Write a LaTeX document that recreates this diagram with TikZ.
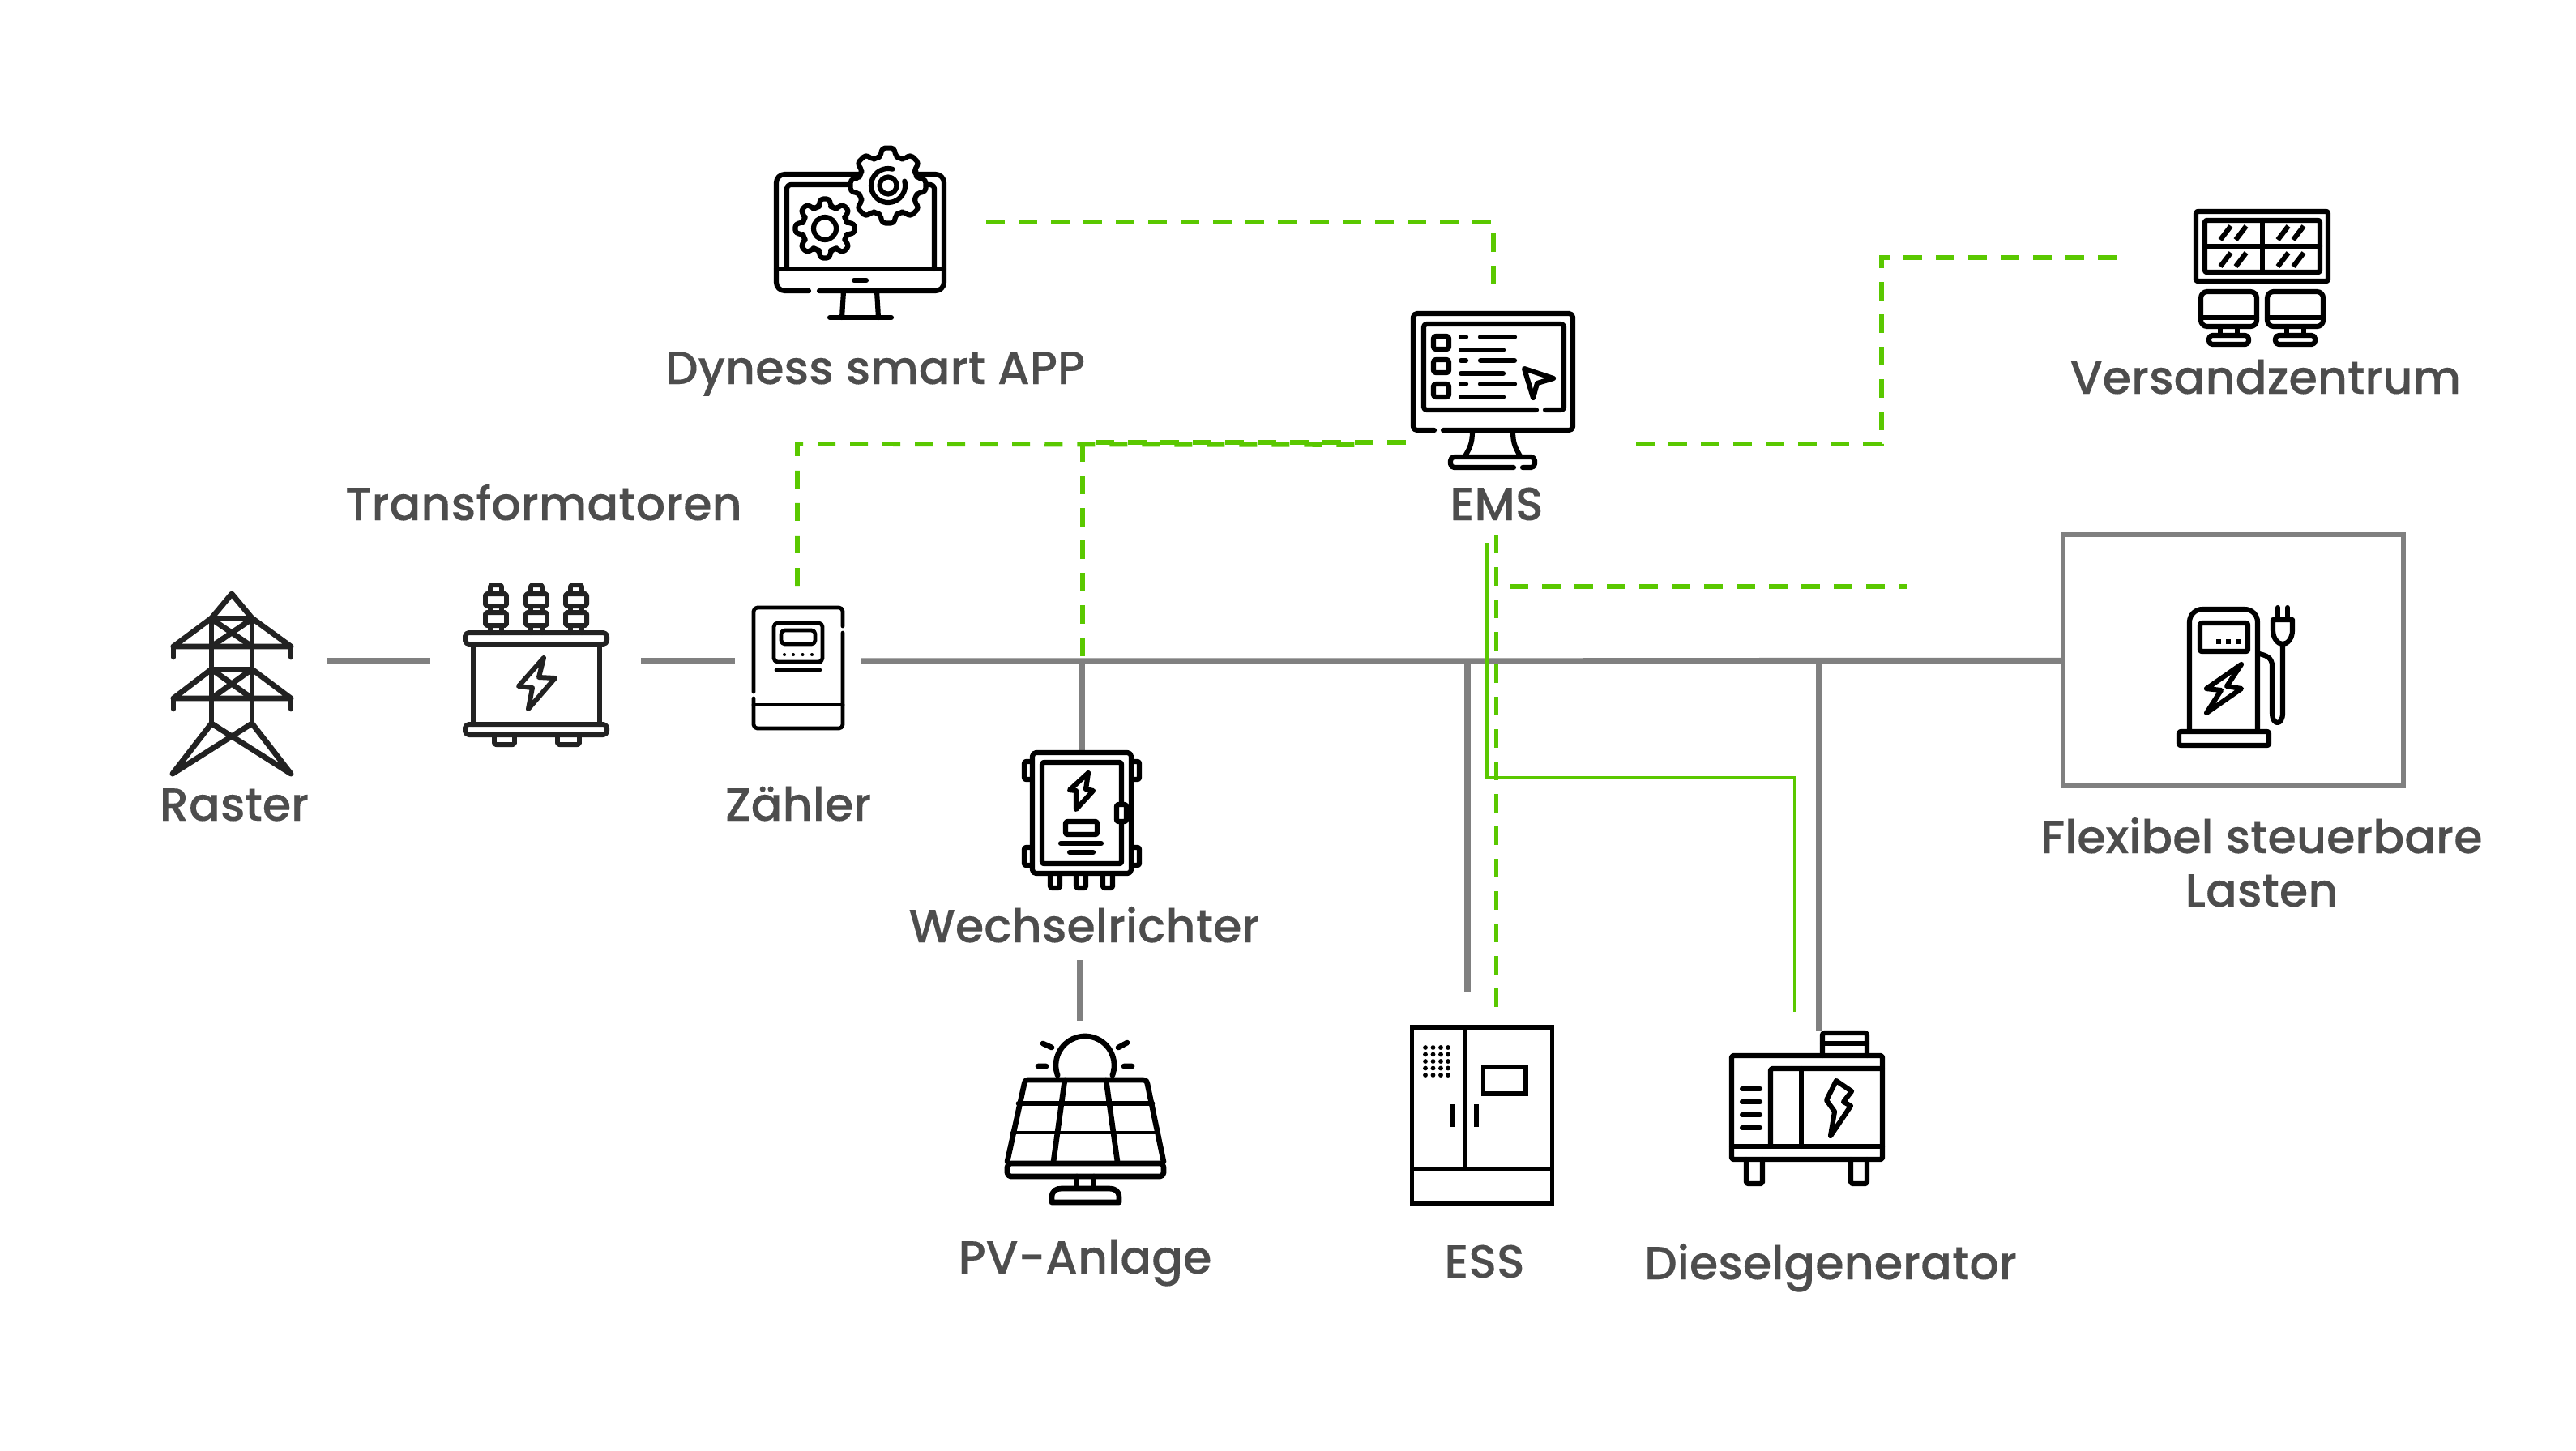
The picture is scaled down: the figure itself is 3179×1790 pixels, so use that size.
\documentclass[tikz,border=0pt]{standalone}
\usepackage{fontspec}
\newfontfamily\labfont[FakeBold=0.12]{Poppins Medium}
\definecolor{gridgrey}{HTML}{808080}
\definecolor{commgreen}{HTML}{5AC800}
\definecolor{labelgrey}{HTML}{4D4D4D}
\definecolor{icondark}{HTML}{222222}
\newcommand\gearshape[4]{%
 \begin{scope}[shift={(#1,#2)}]
 \draw[ic,fill=white,rounded corners=1.1pt] (-22.5:#4)
  \foreach \k in {0,...,7}{ -- ({45*\k-15}:#4) -- ({45*\k-9}:#3) -- ({45*\k+9}:#3) -- ({45*\k+15}:#4) -- ({45*\k+22.5}:#4) } -- cycle;
 \end{scope}}
\tikzset{
 ic/.style={line width=1.75pt,line join=round,line cap=round,draw=black},
 icthin/.style={ic,line width=1.35pt},
 ictower/.style={ic,draw=icondark,line width=1.95pt},
 rc/.style={rounded corners=1.3pt},
 grid/.style={draw=gridgrey,line width=2.05pt},
 gridbox/.style={draw=gridgrey,line width=1.75pt},
 comm/.style={draw=commgreen,line width=1.6pt},
 commsolid/.style={draw=commgreen,line width=1.4pt},
 commdash/.style={comm,dash pattern=on 6.54pt off 4.84pt},
 lab/.style={anchor=base,inner sep=0pt,text=labelgrey,font=\labfont\fontsize{16.3}{19}\selectfont},
 hole/.style={inner sep=0pt,minimum size=0pt},
}
\begin{document}
\begin{tikzpicture}[x=0.01cm,y=-0.01cm]
\useasboundingbox (0,0) rectangle (3179,1790);
\fill[white] (0,0) rectangle (3179,1790);

% ---------- named places for the connector ends
\coordinate (towerE) at (404,816);
\coordinate (trafoW) at (531,816);
\coordinate (trafoE) at (791,816);
\coordinate (meterW) at (907,816);
\coordinate (meterE) at (1062,816);
\coordinate (busA) at (1811,816);
\coordinate (busB) at (2245,815.5);
\coordinate (flexW) at (2546,815.5);
\coordinate (invBus) at (1335,816);
\coordinate (invN) at (1335,927);
\coordinate (invS) at (1333,1185);
\coordinate (pvN) at (1333,1260);
\coordinate (essN) at (1811,1225);
\coordinate (genN) at (2245,1273);
\coordinate (appE) at (1217,274);
\coordinate (appC) at (1843,274);
\coordinate (emsN) at (1843,354);
\coordinate (meterN) at (984,723);
\coordinate (meterC) at (984,548);
\coordinate (meterR) at (1674,549);
\coordinate (emsW) at (1735,546);
\coordinate (invC) at (1336,546);
\coordinate (invG) at (1336,816);
\coordinate (emsE) at (2019,548);
\coordinate (dspA) at (2322,548);
\coordinate (dspB) at (2322,318);
\coordinate (dspE) at (2615,318);
\coordinate (emsS) at (1846.5,660);
\coordinate (essG) at (1846.5,1244);
\coordinate (flexA) at (1863,724);
\coordinate (flexB) at (2353,724);
\coordinate (emsT) at (1834.5,670);
\coordinate (genA) at (1834.5,960);
\coordinate (genB) at (2215,960);
\coordinate (genG) at (2215,1249);

% ---------- grid lines
\draw[grid] (towerE) -- (trafoW);
\draw[grid] (trafoE) -- (meterW);
\draw[grid] (meterE) -- (busA) -- (busB) -- (flexW);
\draw[grid] (invBus) -- (invN);
\draw[grid] (invS) -- (pvN);
\draw[grid] (busA) -- (essN);
\draw[grid] (busB) -- (genN);
\draw[gridbox,fill=white] (2546,660) rectangle (2966,970);

% ---------- communication lines
\draw[commdash] (appE) -- (appC) -- (emsN);
\draw[comm,dash pattern=on 6.26pt off 5.12pt] (meterN) -- (meterC) -- (meterR);
\draw[commdash] (emsW) -- (invC) -- (invG);
\draw[commdash] (emsE) -- (dspA) -- (dspB) -- (dspE);
\draw[commdash] (emsS) -- (essG);
\draw[commdash] (flexA) -- (flexB);
\draw[commsolid] (emsT) -- (genA) -- (genB) -- (genG);

% ---------- tower (Raster)
\node[hole] (tower) at (286,844) {};
\begin{scope}[ictower]
\draw (286,733) -- (261,763) -- (214,798) -- (359,798) -- (311,763) -- cycle;
\draw (261,763) -- (311,763);
\draw (214,798) -- (214,811) (359,798) -- (359,811);
\draw (261,763) -- (261,893) (311,763) -- (311,893);
\draw (264,766) -- (311,798) (308,766) -- (261,798);
\draw (261,826) -- (311,826);
\draw (261,826) -- (214,862) -- (359,862) -- (311,826);
\draw (214,862) -- (214,875) (359,862) -- (359,875);
\draw (261,826) -- (311,862) (311,826) -- (261,862);
\draw (261,893) -- (359,955) -- (311,893) (311,893) -- (213,955) -- (261,893);
\end{scope}

% ---------- transformer
\node[hole] (trafo) at (662,820) {};
\begin{scope}[ictower,line width=1.7pt]
\draw[rc] (574,781) rectangle (749,795);
\draw[rc] (574,894) rectangle (749,907);
\draw (584,795) -- (584,894) (740,795) -- (740,894);
\draw[rounded corners=0.7pt] (610,907) -- (610,919) -- (635,919) -- (635,907);
\draw[rounded corners=0.7pt] (688,907) -- (688,919) -- (715,919) -- (715,907);
\draw (671,812) -- (640,847) -- (657,849) -- (652,875) -- (685,837) -- (665,836) -- cycle;
\foreach \tx in {612,662,711}{
 \draw[rounded corners=0.7pt] (\tx-7,733) -- (\tx-7,722) -- (\tx+7,722) -- (\tx+7,733);
 \draw[rounded corners=0.7pt] (\tx-13,733) rectangle (\tx+13,748);
 \draw[rounded corners=0.7pt] (\tx-13,756) rectangle (\tx+13,772);
 \draw (\tx-7,748) -- (\tx-7,756) (\tx+7,748) -- (\tx+7,756);
 \draw (\tx-7,772) -- (\tx-7,781) (\tx+7,772) -- (\tx+7,781);
}
\end{scope}

% ---------- meter (Zähler)
\node[hole] (meter) at (985,824) {};
\begin{scope}[icthin]
\draw[rc] (1040,773) -- (1040,750) -- (930,750) -- (930,854);
\draw[rc] (930,862) -- (930,899) -- (1040,899) -- (1040,781);
\draw (930,870) -- (1040,870);
\draw[rc] (1013,817) -- (955,817) -- (955,769) -- (1015,769) -- (1015,817) -- (1010,817);
\draw[rc] (964,778) rectangle (1006,795);
\draw (958,827) -- (1012,827);
\foreach \dx in {968,979,990.5,1002}{\fill (\dx,808) circle (2);}
\end{scope}

% ---------- Dyness app monitor
\node[hole] (app) at (1062,268) {};
\begin{scope}[ic]
\draw[rounded corners=3pt] (998,359) -- (958,359) -- (958,215) -- (1165,215) -- (1165,359) -- (1011,359);
\draw[rc] (971,332) -- (971,228) -- (1153,228) -- (1153,332);
\draw (958,332) -- (1165,332);
\draw (1054,346) -- (1069,346);
\draw (1041,359) -- (1039,392) (1082,359) -- (1084,392);
\draw (1024,392) -- (1100,392);
\end{scope}
\gearshape{1096}{229}{47}{37}
\draw[ic] (1096,229) circle (10.5);
\draw[ic] plot[domain=75:375,samples=40] ({1096+21*cos(\x)},{229-21*sin(\x)});
\gearshape{1018}{282}{37}{28}
\draw[ic] (1018,282) circle (14);

% ---------- EMS monitor
\node[hole] (ems) at (1843,480) {};
\begin{scope}[ic]
\draw[rc] (1770,531) -- (1744,531) -- (1744,387) -- (1941,387) -- (1941,531) -- (1781,531);
\draw[rounded corners=1pt] (1896,506) -- (1757,506) -- (1757,400) -- (1930,400) -- (1930,506) -- (1907,506);
\foreach \sy in {413,442,472}{\draw[rounded corners=0.8pt] (1769,\sy+2) rectangle (1788,\sy+18);}
\foreach \ly in {416,445,474}{
 \draw (1803,\ly) -- (1809,\ly) (1827,\ly) -- (1869,\ly);
 \draw (1803,\ly+16) -- (1855,\ly+16);
}
\draw (1881,455) -- (1917,467) -- (1897,473) -- (1892,491) -- cycle;
\draw (1817,533) .. controls (1817,548) and (1813,554) .. (1808,563);
\draw (1867,533) .. controls (1867,548) and (1871,554) .. (1876,563);
\draw[rc] (1868,577) -- (1790,577) -- (1790,564) -- (1894,564) -- (1894,577) -- (1879,577);
\end{scope}

% ---------- dispatch centre (Versandzentrum)
\node[hole] (dispatch) at (2790,342) {};
\begin{scope}[ic]
\draw[rounded corners=0.6pt] (2710,261) rectangle (2873,347);
\draw[rounded corners=0.6pt] (2721,272) rectangle (2863,336);
\draw (2792,272) -- (2792,336) (2721,304) -- (2863,304);
\foreach \ox in {0,71}{\foreach \oy in {0,33}{
 \draw[line cap=butt] (2740+\ox,296+\oy) -- (2753+\ox,279+\oy);
 \draw[line cap=butt] (2759+\ox,296+\oy) -- (2772+\ox,279+\oy);
}}
\foreach \ox in {0,82}{
 \draw[rounded corners=2.2pt] (2716+\ox,360) rectangle (2785+\ox,403);
 \draw (2716+\ox,392) -- (2785+\ox,392);
 \draw (2740+\ox,403) -- (2740+\ox,414) (2761+\ox,403) -- (2761+\ox,414);
 \draw[rounded corners=1.2pt] (2726+\ox,425) -- (2726+\ox,414) -- (2775+\ox,414) -- (2775+\ox,425) -- cycle;
}
\end{scope}

% ---------- charger (Flexibel steuerbare Lasten)
\node[hole] (charger) at (2756,836) {};
\begin{scope}[ic]
\draw[rounded corners=4.5pt] (2702,902) -- (2702,752) -- (2786,752) -- (2786,902);
\draw[rounded corners=0.6pt] (2689,903) rectangle (2800,920);
\draw[rounded corners=0.6pt] (2715,769) rectangle (2774,804);
\foreach \dx in {2738,2750,2762}{\fill (\dx-3,789) rectangle (\dx+3,795);}
\draw (2766,820) -- (2723,850) -- (2741,852) -- (2723,880) -- (2766,850) -- (2748,847) -- cycle;
\draw (2788,807) .. controls (2797,809) and (2804,812) .. (2804,822) -- (2804,880) .. controls (2804,896) and (2817,896) .. (2817,880) -- (2817,795);
\draw (2805,765) -- (2829,765) -- (2829,778) .. controls (2829,788) and (2823,795) .. (2817,795) .. controls (2811,795) and (2805,788) .. (2805,778) -- cycle;
\draw (2811,750) -- (2811,765) (2823,750) -- (2823,765);
\end{scope}

% ---------- inverter (Wechselrichter)
\node[hole] (inverter) at (1335,1000) {};
\begin{scope}[ic]
\draw[rc] (1274,929) rectangle (1396,1078);
\draw[rounded corners=0.6pt] (1286,941) rectangle (1384,1066);
\foreach \ty in {940,1046}{
 \draw[rounded corners=0.6pt] (1273,\ty) -- (1264,\ty) -- (1264,\ty+22) -- (1273,\ty+22);
 \draw[rounded corners=0.6pt] (1397,\ty) -- (1406,\ty) -- (1406,\ty+22) -- (1397,\ty+22);
}
\draw[rounded corners=0.6pt,fill=white] (1378,993) rectangle (1390,1014);
\draw (1343,954) -- (1320,975) -- (1328,976) -- (1328,999) -- (1349,976) -- (1340,974) -- cycle;
\draw[rounded corners=0.6pt] (1315,1014) rectangle (1354,1030);
\draw (1309,1041) -- (1359,1041) (1320,1052) -- (1349,1052);
\foreach \fx in {1296,1328,1361}{
 \draw[rounded corners=0.5pt] (\fx,1079) -- (\fx,1096) -- (\fx+12,1096) -- (\fx+12,1079);
}
\end{scope}

% ---------- PV panel
\node[hole] (pv) at (1339,1380) {};
\begin{scope}[ic,line width=1.9pt]
\draw plot[domain=200:-20,samples=40] ({1339+36*cos(\x)},{1315-36*sin(\x)});
\draw (1287,1288) -- (1298,1293) (1380,1293) -- (1391,1287) (1281,1316) -- (1291,1316) (1387,1316) -- (1397,1316);
\draw (1243,1434) -- (1264,1338) .. controls (1265,1334) and (1266,1333) .. (1268,1333) -- (1411,1333) .. controls (1414,1333) and (1415,1334) .. (1416,1338) -- (1436,1434);
\draw[rc] (1243,1436) -- (1243,1452) -- (1436,1452) -- (1436,1436) -- cycle;
\draw (1257,1362) -- (1422,1362);
\draw[line width=1.2pt] (1249,1398) -- (1430,1398);
\draw (1314,1333) -- (1300,1434) (1365,1333) -- (1379,1434);
\draw (1329,1452) -- (1329,1466) (1350,1452) -- (1350,1466);
\draw (1298,1484) -- (1298,1478) .. controls (1298,1470) and (1303,1467) .. (1310,1467) -- (1369,1467) .. controls (1376,1467) and (1381,1470) .. (1381,1478) -- (1381,1484) -- cycle;
\end{scope}

% ---------- ESS cabinet
\node[hole] (ess) at (1829,1376) {};
\begin{scope}[ic,line width=1.6pt,line join=miter,line cap=butt]
\draw (1742.5,1268) rectangle (1915.5,1485);
\draw (1742.5,1443) -- (1915.5,1443);
\draw (1807.5,1268) -- (1807.5,1443);
\draw (1830.5,1317.5) rectangle (1883,1350);
\draw (1793,1363) -- (1793,1391) (1822,1363) -- (1822,1391);
\foreach \dx in {1759,1768.5,1778,1787}{\foreach \dy in {1293,1301.5,1310,1318.5,1327}{\fill (\dx,\dy) circle (2.9);}}
\end{scope}

% ---------- diesel generator
\node[hole] (genset) at (2230,1368) {};
\begin{scope}[ic]
\draw[rounded corners=0.5pt] (2137,1303) rectangle (2323,1431);
\draw (2137,1415) -- (2323,1415);
\draw[rounded corners=0.5pt] (2185,1415) -- (2185,1319) -- (2323,1319);
\draw (2223,1319) -- (2223,1415);
\draw[rounded corners=0.5pt] (2249,1303) -- (2249,1275) -- (2304,1275) -- (2304,1303);
\draw (2249,1288) -- (2304,1288);
\foreach \sy in {1344,1360,1376,1392}{\draw (2150,\sy) -- (2172,\sy);}
\draw (2266,1334) -- (2285,1347) -- (2275,1360) -- (2284,1365) -- (2259,1402) -- (2264,1372) -- (2254,1358) -- cycle;
\draw[rounded corners=0.5pt] (2155,1431) -- (2155,1461) -- (2175,1461) -- (2175,1431);
\draw[rounded corners=0.5pt] (2284,1431) -- (2284,1461) -- (2304,1461) -- (2304,1431);
\end{scope}

% ---------- labels
\node[lab] (labApp) at (1080,474) {Dyness smart APP};
\node[lab] (labDsp) at (2796,486) {Versandzentrum};
\node[lab] (labTrf) at (671,642) {Transformatoren};
\node[lab] (labEms) at (1847,642) {EMS};
\node[lab] (labGrd) at (289,1013) {Raster};
\node[lab] (labMtr) at (985,1013) {Zähler};
\node[lab] (labInv) at (1338,1163) {Wechselrichter};
\node[lab] (labFx1) at (2791,1053) {Flexibel steuerbare};
\node[lab] (labFx2) at (2791,1119) {Lasten};
\node[lab] (labPv)  at (1339,1572) {PV-Anlage};
\node[lab] (labEss) at (1832,1577) {ESS};
\node[lab] (labGen) at (2259,1579) {Dieselgenerator};
\end{tikzpicture}
\end{document}
